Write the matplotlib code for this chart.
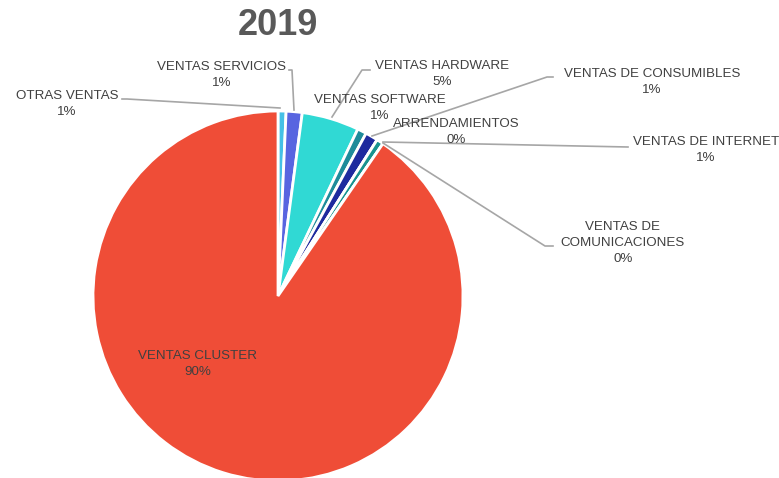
import matplotlib.pyplot as plt

plt.rcParams['font.family'] = ['Liberation Sans', 'DejaVu Sans']

# slices in clockwise order starting at 12 o'clock
categories = ["OTRAS VENTAS", "VENTAS SERVICIOS", "VENTAS HARDWARE", "VENTAS SOFTWARE",
              "VENTAS DE CONSUMIBLES", "ARRENDAMIENTOS", "VENTAS DE INTERNET",
              "VENTAS DE\nCOMUNICACIONES", "VENTAS CLUSTER"]
values = [0.7, 1.4, 5.0, 0.8, 1.1, 0.0, 0.6, 0.0, 90.4]
colors = ["#45C0E6", "#5865E0", "#30D9D4", "#1E8B9A", "#1E2A9E",
          "#1E8B9A", "#17928F", "#2E9C8C", "#EF4D37"]

W, H = 779, 478
fig = plt.figure(figsize=(W / 100, H / 100), dpi=100)
ax = fig.add_axes([0, 0, 1, 1])

def py(y):
    return H - y

ax.pie(values, colors=colors, startangle=90, counterclock=False,
       center=(278, py(296)), radius=185,
       wedgeprops=dict(edgecolor="white", linewidth=2))
ax.set_xlim(0, W)
ax.set_ylim(0, H)
ax.set_aspect("equal")
ax.axis("off")

total = sum(values)
pct = [f"{int(v / total * 100 + 0.5)}%" for v in values]

# label centre positions (pixels)
label_pos = [(67, 104), (222, 75), (442, 74), (380, 108), (652, 82),
             (456, 132), (706, 150), (623, 243), (198, 364)]
for cat, p, (x, y) in zip(categories, pct, label_pos):
    ax.text(x, py(y), cat + "\n" + p, ha="center", va="center",
            fontsize=9.6, color="#404040", linespacing=1.42)

# leader lines (pixels)
leaders = [
    [(122, 99), (127, 99), (280, 108)],
    [(289, 70), (292, 70), (294, 110)],
    [(370, 70), (362, 70), (332, 117)],
    [(553, 77), (547, 77), (372, 136)],
    [(628, 147), (383, 142)],
    [(553, 246), (545, 246), (383, 143)],
]
for pts in leaders:
    xs = [p[0] for p in pts]
    ys = [py(p[1]) for p in pts]
    ax.plot(xs, ys, color="#A6A6A6", linewidth=1.2)

ax.text(278, py(25), "2019", ha="center", va="center", fontsize=26,
        fontweight="bold", color="#595959")

fig.savefig("out.png", dpi=100)
